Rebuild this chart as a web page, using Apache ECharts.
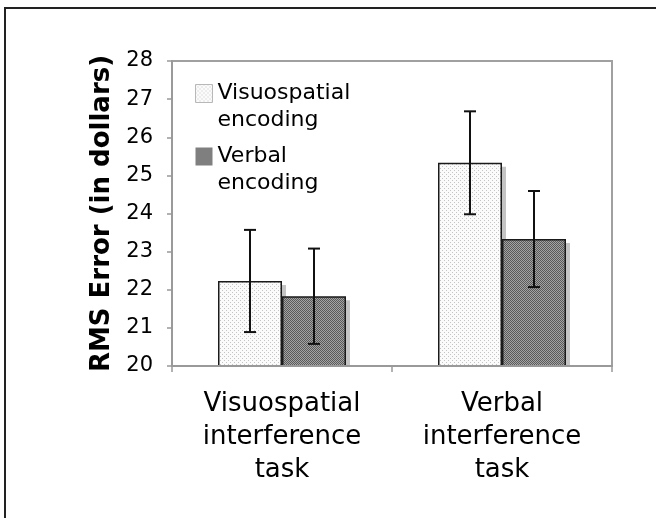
<!DOCTYPE html>
<html>
<head>
<meta charset="utf-8">
<script src="https://cdn.jsdelivr.net/npm/echarts@6/dist/echarts.min.js"></script>
<style>
html,body{margin:0;padding:0;background:#fff;}
#chart{width:656px;height:518px;}
</style>
</head>
<body>
<div id="chart"></div>
<script>
// ---- data ----
const categories = ['Visuospatial\ninterference\ntask', 'Verbal\ninterference\ntask'];
const seriesNames = ['Visuospatial\nencoding', 'Verbal\nencoding'];
const visuoEncoding = [22.23, 25.33];
const verbalEncoding = [21.83, 23.33];
const visuoErr = [1.34, 1.35];
const verbalErr = [1.25, 1.26];
const yTicks = [20, 21, 22, 23, 24, 25, 26, 27, 28];

// ---- patterns ----
function makePattern(w, h, bg, fg, pts) {
  const c = document.createElement('canvas');
  c.width = w; c.height = h;
  const ctx = c.getContext('2d');
  ctx.fillStyle = bg; ctx.fillRect(0, 0, w, h);
  ctx.fillStyle = fg;
  pts.forEach(p => ctx.fillRect(p[0], p[1], 1, 1));
  return { image: c, repeat: 'repeat' };
}
const visuoFill = makePattern(4, 4, '#fbfbfb', '#c4c4c4', [[0, 0], [2, 2]]);
const verbalFill = makePattern(2, 2, '#a4a4a4', '#5a5a5a', [[0, 0], [1, 1]]);

const FONT = 'DejaVu Sans';
const BAR_W = 64;
const chart = echarts.init(document.getElementById('chart'));

function errSeries(vals, errs, off) {
  return {
    type: 'custom',
    z: 5,
    silent: true,
    data: vals.map((v, i) => [i, v, errs[i]]),
    renderItem: function (params, api) {
      const i = api.value(0), v = api.value(1), e = api.value(2);
      const t = api.coord([i, v + e]);
      const b = api.coord([i, v - e]);
      const x = t[0] + off;
      const st = { stroke: '#111', lineWidth: 2 };
      return {
        type: 'group',
        children: [
          { type: 'line', shape: { x1: x, y1: t[1], x2: x, y2: b[1] }, style: st },
          { type: 'line', shape: { x1: x - 6, y1: t[1], x2: x + 6, y2: t[1] }, style: st },
          { type: 'line', shape: { x1: x - 6, y1: b[1], x2: x + 6, y2: b[1] }, style: st }
        ]
      };
    }
  };
}

function shadowSeries(vals, off) {
  return {
    type: 'custom',
    z: 1,
    silent: true,
    data: vals.map((v, i) => [i, v]),
    renderItem: function (params, api) {
      const i = api.value(0), v = api.value(1);
      const t = api.coord([i, v]);
      const b = api.coord([i, yTicks[0]]);
      const x = t[0] + off - BAR_W / 2 + 4;
      return {
        type: 'rect',
        shape: { x: x, y: t[1] + 4, width: BAR_W, height: b[1] - t[1] - 4 },
        style: { fill: '#c4c4c4' }
      };
    }
  };
}

const barStyleCommon = {
  borderColor: '#1a1a1a',
  borderWidth: 1.5
};

chart.setOption({
  animation: false,
  backgroundColor: '#fff',
  textStyle: { fontFamily: FONT },
  graphic: [{
    type: 'rect',
    shape: { x: 5, y: 8, width: 700, height: 600 },
    style: { fill: 'none', stroke: '#222', lineWidth: 2 },
    z: 100
  }],
  grid: {
    left: 172, top: 61, width: 440, height: 305,
    show: true, borderColor: '#a0a0a0', borderWidth: 2, backgroundColor: 'transparent'
  },
  legend: {
    orient: 'vertical',
    left: 195,
    top: 53,
    padding: 0,
    itemWidth: 17,
    itemHeight: 18,
    itemGap: -18,
    icon: 'rect',
    formatter: function (name) { return '\n' + name; },
    textStyle: { fontFamily: FONT, fontSize: 22, color: '#000', lineHeight: 27 },
    data: [
      { name: seriesNames[0], itemStyle: { borderColor: '#b8b8b8', borderWidth: 1 } },
      { name: seriesNames[1], itemStyle: { borderWidth: 0 } }
    ]
  },
  xAxis: {
    type: 'category',
    data: categories,
    z: 6,
    axisLine: { lineStyle: { color: '#999', width: 2 } },
    axisTick: { show: true, length: 6, lineStyle: { color: '#999', width: 1.5 } },
    axisLabel: { fontFamily: FONT, fontSize: 26, color: '#000', lineHeight: 33, margin: 22 }
  },
  yAxis: {
    type: 'value',
    min: yTicks[0],
    max: yTicks[yTicks.length - 1],
    interval: 1,
    name: 'RMS Error (in dollars)',
    nameLocation: 'middle',
    nameGap: 56,
    nameTextStyle: { fontFamily: FONT, fontSize: 26, fontWeight: 'bold', color: '#000' },
    axisLine: { show: true, lineStyle: { color: '#999', width: 1.5 } },
    axisTick: { show: true, length: 5, lineStyle: { color: '#999', width: 1.5 } },
    axisLabel: { fontFamily: FONT, fontSize: 21, color: '#000', margin: 19 },
    splitLine: { show: false }
  },
  series: [
    shadowSeries(visuoEncoding, -BAR_W / 2),
    shadowSeries(verbalEncoding, BAR_W / 2),
    {
      name: seriesNames[0],
      type: 'bar',
      z: 2,
      data: visuoEncoding,
      barWidth: BAR_W,
      barGap: '0%',
      itemStyle: Object.assign({ color: visuoFill }, barStyleCommon)
    },
    {
      name: seriesNames[1],
      type: 'bar',
      z: 2,
      data: verbalEncoding,
      barWidth: BAR_W,
      barGap: '0%',
      itemStyle: Object.assign({ color: verbalFill }, barStyleCommon)
    },
    errSeries(visuoEncoding, visuoErr, -BAR_W / 2),
    errSeries(verbalEncoding, verbalErr, BAR_W / 2)
  ]
});
</script>
</body>
</html>
